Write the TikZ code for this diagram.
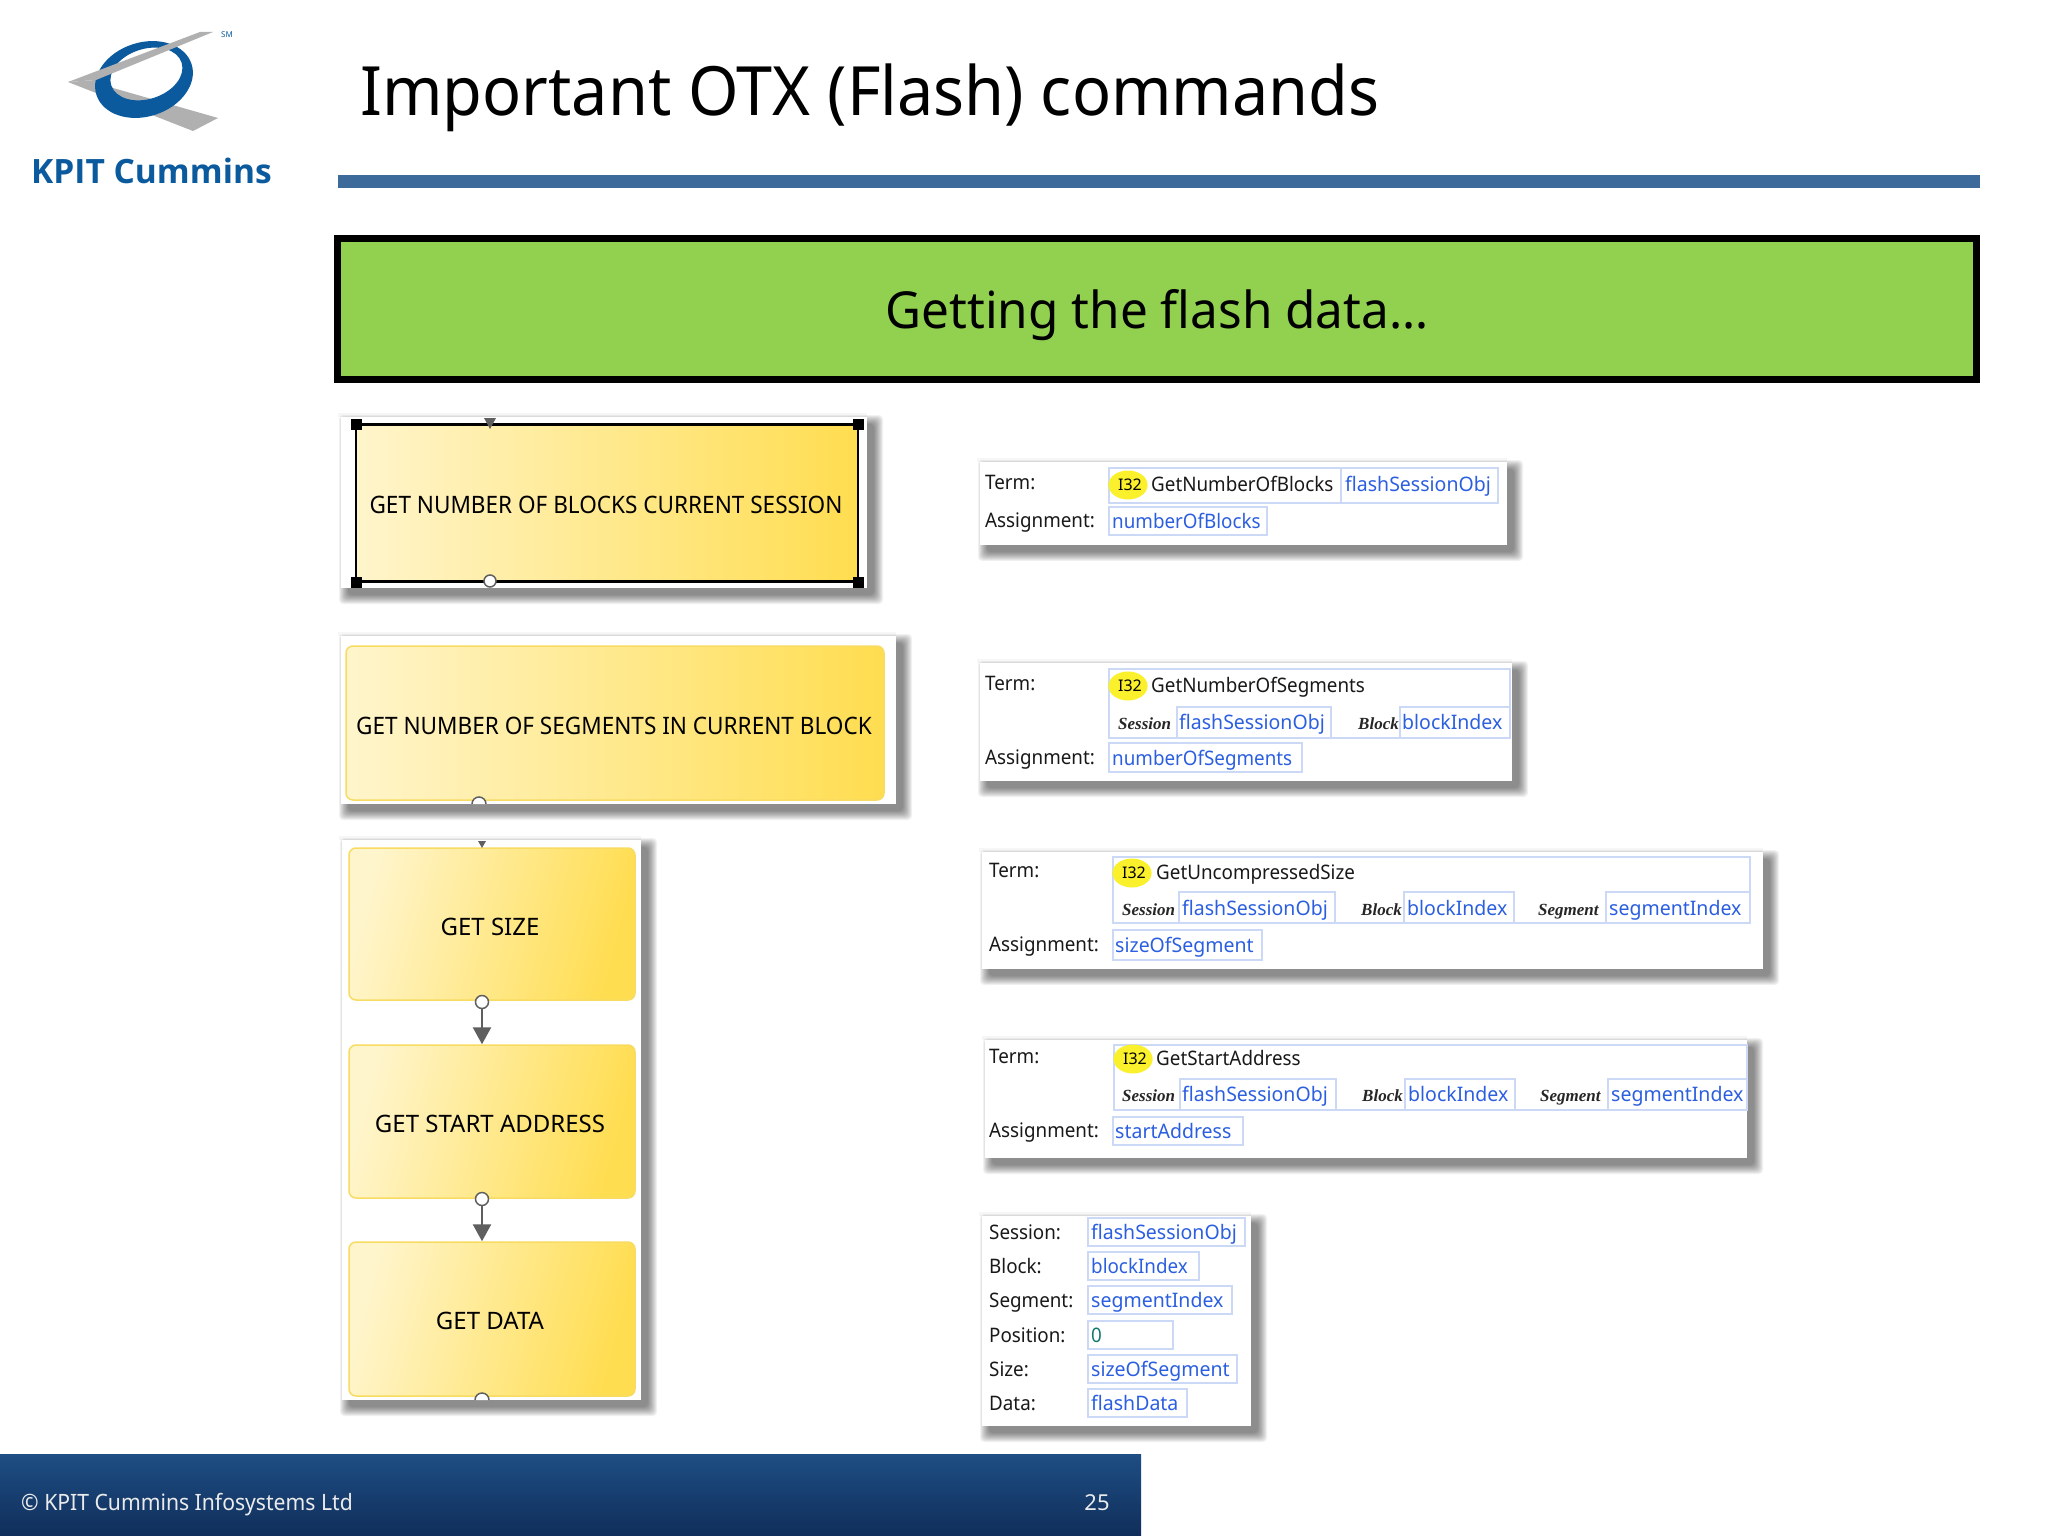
\documentclass[tikz,border=0pt]{standalone}
\usepackage{fontspec}
\setmainfont{Noto Sans}
\newfontfamily\liseri{Liberation Serif}
\newfontfamily\uif[FakeStretch=0.94]{Noto Sans}
\newfontfamily\uiw[FakeStretch=0.975]{Noto Sans}
\newfontfamily\titlef[FakeStretch=0.952]{Noto Sans}
\newfontfamily\bannerf[FakeStretch=0.97]{Noto Sans}
\newfontfamily\brandf{Open Sans}
\usetikzlibrary{arrows.meta,calc,shapes.geometric}
\definecolor{kpit}{HTML}{0B5A9E}
\definecolor{rulec}{HTML}{3B6A9B}
\definecolor{greenb}{HTML}{92D050}
\definecolor{fieldc}{HTML}{CBD9F6}
\definecolor{valc}{HTML}{2B5FE0}
\definecolor{zeroc}{HTML}{127A6C}
\definecolor{stepedge}{HTML}{F8DC62}
\definecolor{stepl}{HTML}{FFF5CC}
\definecolor{stepr}{HTML}{FFDD50}
\definecolor{grayc}{HTML}{5F5F5F}
\definecolor{logogray}{HTML}{B0B0B0}
\definecolor{ibadge}{HTML}{FAF02C}
\tikzset{
  x=1pt,y=-1pt,
  stepbox/.style={draw=stepedge,line width=1.5pt,rounded corners=7pt,left color=stepl,right color=stepr,inner sep=0pt},
  stepboxd/.style={stepbox,shading angle=75},
  steptxt/.style={font=\fontsize{24}{28}\selectfont,text=black},
  steptxtn/.style={font=\uif\fontsize{24}{28}\selectfont,text=black},
  port/.style={circle,draw=grayc,fill=white,line width=1.5pt,minimum size=13pt,inner sep=0pt},
  handle/.style={fill=black,minimum size=11pt,inner sep=0pt},
  conn/.style={draw=grayc,line width=2.5pt,-{Triangle[width=18pt,length=17pt]}},
  field/.style={draw=fieldc,line width=1.3pt,fill=white},
  lab/.style={anchor=base west,inner sep=0pt,font=\uif\fontsize{20}{24}\selectfont,text=black!90},
  val/.style={anchor=base west,inner sep=0pt,font=\uif\fontsize{20}{24}\selectfont,text=valc},
  valw/.style={val,font=\uiw\fontsize{20}{24}\selectfont},
  fnc/.style={anchor=base west,inner sep=0pt,font=\uif\fontsize{20}{24}\selectfont,text=black!90},
  arg/.style={anchor=base west,inner sep=0pt,font=\liseri\bfseries\itshape\fontsize{17}{20}\selectfont,text=black!85},
  ityp/.style={ellipse,fill=ibadge,minimum width=36pt,minimum height=29pt,inner sep=0pt,font=\fontsize{16}{18}\selectfont,text=black},
}
\newcommand\panelrect[4]{%
  \foreach \r in {9,8,7,6,5,4,3,2,1,0}{%
    \fill[black,opacity=.055,rounded corners=4pt] (#1+7-\r,#2+7-\r) rectangle (#3+7+\r,#4+7+\r);}
  \fill[black,opacity=.035] (#1-3,#2-4) rectangle (#3,#2);
  \fill[white] (#1,#2) rectangle (#3,#4);}
\newcommand\fieldbox[4]{\draw[field] (#1,#2) rectangle (#3,#4);}
\newcommand\iword{\hspace*{4pt}I32}
\begin{document}
\begin{tikzpicture}
\useasboundingbox (0,0) rectangle (2048,1536);
\fill[white] (0,0) rectangle (2048,1536);
% logo
\fill[logogray] (68,82) -- (96,80) -- (113,88) -- (218,118) -- (193,131) -- cycle;
\fill[kpit,even odd rule] [rotate around={18:(144,79.5)}] (144,79.5) ellipse (50 and 37) (148,75) ellipse (37 and 25);
\fill[logogray] (68,82) -- (200,32) -- (213,32) -- (96,80) -- cycle;
\node[anchor=base west,inner sep=0pt,text=kpit,font=\brandf\bfseries\fontsize{33.5}{36}\selectfont] (brand) at (31,183) {KPIT Cummins};
\node[anchor=center,inner sep=0pt,text=kpit,font=\fontsize{8}{9}\selectfont] (sm) at (227,35) {SM};
% title
\node[anchor=base west,inner sep=0pt,font=\titlef\fontsize{68}{76}\selectfont] (title) at (360,116) {Important OTX (Flash) commands};
\fill[rulec] (338,175) rectangle (1980,188);
\node[draw=black,line width=7pt,fill=greenb,minimum width=1639pt,minimum height=141pt,inner sep=0pt] (banner) at (1157,309) {};
\node[font=\bannerf\fontsize{51}{60}\selectfont,inner sep=0pt] (bannertxt) at (1157,315) {Getting the flash data…};
% panel 1
\panelrect{341}{417}{867}{588}
\node[stepbox,rounded corners=0pt,draw=black,line width=2.5pt,minimum width=502pt,minimum height=157pt] (b1) at (607,503) {};
\node[steptxtn] (t1) at (606,505) {GET NUMBER OF BLOCKS CURRENT SESSION};
\foreach \p/\q in {356/424,858/424,356/582,858/582}{\node[handle] at (\p,\q) {};}
\fill[grayc] (484,418) -- (496,418) -- (490,429) -- cycle;
\node[port,minimum size=12pt] (p1) at (490,581) {};
% panel 2
\panelrect{341}{636}{896}{804}
\node[stepbox,minimum width=538pt,minimum height=154pt] (b2) at (615,723) {};
\node[steptxtn] (t2) at (614,726) {GET NUMBER OF SEGMENTS IN CURRENT BLOCK};
\fill[white] (472,804) arc (180:360:7) -- cycle;
\draw[grayc,line width=1.5pt] (472,804) arc (180:360:7);
% panel 3
\panelrect{342}{840}{641}{1400}
\node[stepboxd,minimum width=286pt,minimum height=152pt] (b3) at (492,924) {};
\node[stepboxd,minimum width=286pt,minimum height=153pt] (b4) at (492,1121.5) {};
\node[stepboxd,minimum width=286pt,minimum height=154pt] (b5) at (492,1319) {};
\node[steptxt] (t3) at (490,927) {GET SIZE};
\node[steptxt] (t4) at (490,1124) {GET START ADDRESS};
\node[steptxt] (t5) at (490,1321) {GET DATA};
\fill[grayc] (478,841) -- (486,841) -- (482,848) -- cycle;
\node[port] (p3) at (482,1002) {};
\node[port] (p4) at (482,1199) {};
\path (b4.north -| p3) coordinate (i4) (b5.north -| p4) coordinate (i5);
\draw[conn] (p3) -- (i4);
\draw[conn] (p4) -- (i5);
\fill[white] (475,1400) arc (180:360:7) -- cycle;
\draw[grayc,line width=1.5pt] (475,1400) arc (180:360:7);
% field panel 1
\panelrect{980}{462}{1507}{545}
\fieldbox{1109}{468}{1341}{503}\fieldbox{1341}{468}{1498}{503}\fieldbox{1109}{507}{1267}{535}
\node[ityp] (a1i) at (1128,485) {\iword};
\node[lab] (a1t) at (985,489) {Term:};
\node[lab] (a1a) at (985,527) {Assignment:};
\node[fnc] (a1f) at (1151,491) {GetNumberOfBlocks};
\node[valw] (a1v) at (1345,491) {flashSessionObj};
\node[val] (a1w) at (1112,528) {numberOfBlocks};
% field panel 2
\panelrect{980}{663}{1512}{781}
\fieldbox{1109}{669}{1510}{738}\fieldbox{1177}{707}{1331}{738}\fieldbox{1400}{707}{1510}{738}\fieldbox{1109}{743}{1302}{772}
\node[ityp] (a2i) at (1128,686) {\iword};
\node[lab] (a2t) at (985,690) {Term:};
\node[lab] (a2a) at (985,764) {Assignment:};
\node[fnc] (a2f) at (1151,692) {GetNumberOfSegments};
\node[arg] (a2s) at (1118,729) {Session};
\node[valw] (a2v) at (1179,729) {flashSessionObj};
\node[arg] (a2b) at (1358,729) {Block};
\node[valw] (a2c) at (1402,729) {blockIndex};
\node[val] (a2w) at (1112,765) {numberOfSegments};
% field panel 3
\panelrect{982}{852}{1763}{969}
\fieldbox{1113}{857}{1750}{923}\fieldbox{1179}{892}{1335}{923}\fieldbox{1404}{892}{1514}{923}\fieldbox{1606}{892}{1750}{923}\fieldbox{1113}{930}{1262}{960}
\node[ityp] (a3i) at (1132,873) {\iword};
\node[lab] (a3t) at (989,877) {Term:};
\node[lab] (a3a) at (989,951) {Assignment:};
\node[fnc] (a3f) at (1156,879) {GetUncompressedSize};
\node[arg] (a3s) at (1122,915) {Session};
\node[valw] (a3v) at (1182,915) {flashSessionObj};
\node[arg] (a3b) at (1361,915) {Block};
\node[valw] (a3c) at (1407,915) {blockIndex};
\node[arg] (a3d) at (1538,915) {Segment};
\node[valw] (a3e) at (1609,915) {segmentIndex};
\node[valw] (a3w) at (1115,952) {sizeOfSegment};
% field panel 4
\panelrect{985}{1040}{1747}{1158}
\fieldbox{1114}{1045}{1747}{1110}\fieldbox{1180}{1079}{1336}{1110}\fieldbox{1405}{1079}{1515}{1110}\fieldbox{1608}{1079}{1747}{1110}\fieldbox{1113}{1117}{1243}{1145}
\node[ityp] (a4i) at (1133,1059) {\iword};
\node[lab] (a4t) at (989,1063) {Term:};
\node[lab] (a4a) at (989,1137) {Assignment:};
\node[fnc] (a4f) at (1156,1065) {GetStartAddress};
\node[arg] (a4s) at (1122,1101) {Session};
\node[valw] (a4v) at (1182,1101) {flashSessionObj};
\node[arg] (a4b) at (1362,1101) {Block};
\node[valw] (a4c) at (1408,1101) {blockIndex};
\node[arg] (a4d) at (1540,1101) {Segment};
\node[valw] (a4e) at (1611,1101) {segmentIndex};
\node[valw] (a4w) at (1115,1138) {startAddress};
% field panel 5
\panelrect{982}{1216}{1251}{1426}
\fieldbox{1088}{1218}{1245}{1246}\fieldbox{1088}{1252}{1199}{1280}\fieldbox{1088}{1286}{1232}{1314}\fieldbox{1088}{1321}{1173}{1349}\fieldbox{1088}{1355}{1237}{1383}\fieldbox{1088}{1389}{1187}{1417}
\node[lab] (l1) at (989,1239) {Session:};
\node[lab] (l2) at (989,1273) {Block:};
\node[lab] (l3) at (989,1307) {Segment:};
\node[lab] (l4) at (989,1342) {Position:};
\node[lab] (l5) at (989,1376) {Size:};
\node[lab] (l6) at (989,1410) {Data:};
\node[valw] (v1) at (1091,1239) {flashSessionObj};
\node[val] (v2) at (1091,1273) {blockIndex};
\node[valw] (v3) at (1091,1307) {segmentIndex};
\node[val,text=zeroc] (v4) at (1091,1342) {0};
\node[valw] (v5) at (1091,1376) {sizeOfSegment};
\node[valw] (v6) at (1091,1410) {flashData};
% footer
\shade[top color={rgb,255:red,30;green,78;blue,132},bottom color={rgb,255:red,16;green,46;blue,90}] (0,1454) rectangle (1141,1536);
\node[anchor=base west,inner sep=0pt,text=white!92!black,font=\uif\fontsize{22.5}{26}\selectfont] (copy) at (21,1510) {© KPIT Cummins Infosystems Ltd};
\node[anchor=base,inner sep=0pt,text=white!92!black,font=\fontsize{22}{26}\selectfont] (num) at (1097,1510) {25};
\end{tikzpicture}
\end{document}
